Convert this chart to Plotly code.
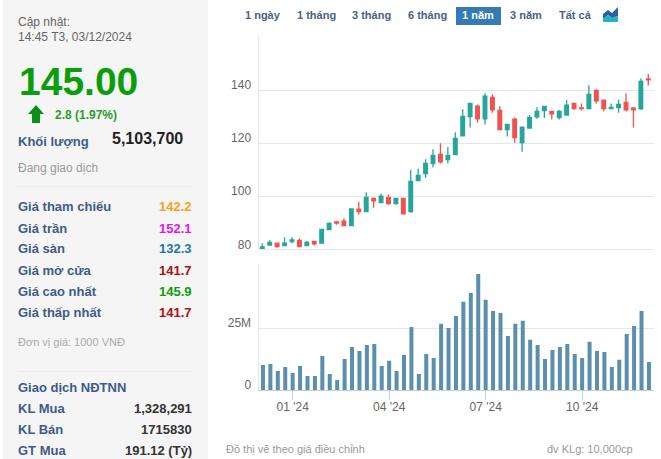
import plotly.graph_objects as go

W = 661
H = 459

weeks = ["2023-12-04", "2023-12-11", "2023-12-18", "2023-12-25", "2024-01-01", "2024-01-08", "2024-01-15",
         "2024-01-22", "2024-01-29", "2024-02-05", "2024-02-12", "2024-02-19", "2024-02-26", "2024-03-04",
         "2024-03-11", "2024-03-18", "2024-03-25", "2024-04-01", "2024-04-08", "2024-04-15", "2024-04-22",
         "2024-04-29", "2024-05-06", "2024-05-13", "2024-05-20", "2024-05-27", "2024-06-03", "2024-06-10",
         "2024-06-17", "2024-06-24", "2024-07-01", "2024-07-08", "2024-07-15", "2024-07-22", "2024-07-29",
         "2024-08-05", "2024-08-12", "2024-08-19", "2024-08-26", "2024-09-02", "2024-09-09", "2024-09-16",
         "2024-09-23", "2024-09-30", "2024-10-07", "2024-10-14", "2024-10-21", "2024-10-28", "2024-11-04",
         "2024-11-11", "2024-11-18", "2024-11-25", "2024-12-02"]

opens = [80.2, 81.6, 82.3, 81.4, 82.9, 83.4, 81.4, 83.0, 82.3, 87.4, 90.3, 90.6, 88.9, 95.1, 94.2, 99.2, 97.6, 99.5,
         97.2, 99.2, 94.2, 105.9, 108.5, 112.3, 115.8, 113.8, 115.7, 122.8, 130.0, 134.0, 129.2, 137.3, 132.4, 125.1,
         129.1, 120.2, 125.7, 129.9, 132.3, 132.0, 129.6, 130.6, 135.0, 133.3, 133.0, 139.9, 136.2, 133.0, 133.4,
         135.4, 133.3, 132.9, 144.2]
highs = [82.3, 83.4, 82.6, 84.5, 84.5, 84.1, 83.1, 83.1, 87.7, 90.2, 90.8, 91.7, 95.5, 97.8, 101.5, 99.5, 100.9, 100.7,
         99.3, 99.3, 109.9, 110.5, 113.9, 117.7, 120.0, 118.6, 124.1, 132.8, 135.2, 134.6, 138.8, 138.4, 133.9, 127.2,
         129.7, 126.1, 130.6, 133.5, 134.0, 132.1, 132.5, 136.3, 135.2, 135.0, 141.8, 140.3, 136.5, 135.0, 136.5,
         138.8, 133.5, 144.4, 146.1]
lows = [79.7, 81.3, 80.6, 81.3, 82.3, 80.9, 81.3, 81.4, 82.1, 87.3, 89.3, 88.8, 88.8, 93.1, 94.1, 95.7, 97.5, 96.8,
        96.8, 93.3, 93.8, 105.8, 107.0, 110.8, 112.3, 112.3, 115.6, 122.7, 125.9, 127.7, 127.0, 131.5, 125.0, 122.5,
        120.2, 116.8, 125.5, 129.2, 129.5, 128.9, 128.9, 130.4, 132.6, 132.3, 132.9, 134.9, 131.9, 133.0, 131.5,
        131.9, 125.9, 132.6, 141.7]
closes = [80.9, 82.6, 81.0, 82.3, 83.5, 81.0, 82.6, 82.1, 87.5, 89.8, 89.9, 88.9, 95.2, 94.2, 99.6, 98.3, 100.0, 97.2,
          99.2, 93.4, 105.6, 107.9, 112.4, 115.4, 113.0, 115.4, 121.8, 130.1, 135.0, 129.2, 137.7, 132.6, 125.1, 127.1,
          122.1, 126.0, 129.7, 132.0, 133.9, 131.1, 132.0, 134.3, 133.0, 133.0, 138.4, 136.0, 133.0, 133.5, 134.6,
          132.6, 132.6, 143.3, 143.9]
volumes = [10.1, 10.5, 7.7, 9.3, 6.9, 9.7, 5.7, 5.7, 13.8, 6.5, 4.1, 12.6, 17.4, 15.8, 18.2, 18.6, 9.7, 11.8, 7.7, 14.2,
           25.5, 6.5, 14.6, 13.0, 26.8, 25.1, 30.0, 35.7, 39.3, 47.0, 36.5, 32.0, 31.2, 21.9, 26.8, 28.0, 20.3, 18.2,
           12.6, 16.2, 17.4, 18.6, 14.6, 13.0, 19.5, 15.8, 15.4, 9.3, 12.2, 22.7, 25.9, 32.0, 11.3]

month_ticks = ["2024-01-01", "2024-04-01", "2024-07-01", "2024-09-30"]
month_labels = ["01 '24", "04 '24", "07 '24", "10 '24"]

range_buttons = ["1 ngày", "1 tháng", "3 tháng", "6 tháng", "1 năm", "3 năm", "Tất cả"]
button_centers = [263, 316, 371, 427, 478, 526, 575]

price_rows = ["Giá tham chiếu", "Giá trần", "Giá sàn", "Giá mở cửa", "Giá cao nhất", "Giá thấp nhất"]
price_values = ["142.2", "152.1", "132.3", "141.7", "145.9", "141.7"]
price_colors = ["#f7a11a", "#e815e8", "#1f78a8", "#aa1111", "#0a9e0a", "#aa1111"]

foreign_rows = ["KL Mua", "KL Bán", "GT Mua"]
foreign_values = ["1,328,291", "1715830", "191.12 (Tỷ)"]

FONT = "Liberation Sans"
NAVY = "#3f5b8a"


def px(x):
    return x / W


def py(y):
    return 1 - y / H


def note(text, x, y, size=12, color="#666666", bold=False, anchor="left"):
    if bold:
        text = "<b>" + text + "</b>"
    return dict(text=text, x=px(x), y=py(y), xref="paper", yref="paper", showarrow=False,
                xanchor=anchor, yanchor="middle", borderpad=0, borderwidth=0,
                font=dict(family=FONT, size=size, color=color))


fig = go.Figure()
fig.add_trace(go.Candlestick(x=weeks, open=opens, high=highs, low=lows, close=closes,
                             increasing=dict(line=dict(color="#26a69a", width=1.3), fillcolor="#26a69a"),
                             decreasing=dict(line=dict(color="#ef5350", width=1.3), fillcolor="#ef5350"),
                             whiskerwidth=0, xaxis="x", yaxis="y", showlegend=False))
fig.add_trace(go.Bar(x=weeks, y=volumes, marker=dict(color="#5b8fac", line=dict(width=0)),
                     xaxis="x2", yaxis="y2", showlegend=False))

notes = [
    note("Cập nhật:", 18, 22),
    note("14:45 T3, 03/12/2024", 18, 37),
    note("145.00", 19, 82, size=39, color="#0a9e0a", bold=True),
    note("2.8 (1.97%)", 55, 115, size=12, color="#2a9d2a", bold=True),
    note("Khối lượng", 18, 141, size=13, color=NAVY, bold=True),
    note("5,103,700", 112, 139, size=16, color="#222222", bold=True),
    note("Đang giao dịch", 18, 168, color="#999999"),
    note("Đơn vị giá: 1000 VNĐ", 18, 342, size=11, color="#aaaaaa"),
    note("Giao dịch NĐTNN", 18, 387, size=13, color=NAVY, bold=True),
    note("Đồ thị vẽ theo giá điều chỉnh", 226, 449, size=11, color="#999999"),
    note("đv KLg: 10,000cp", 633, 449, size=11, color="#999999", anchor="right"),
]
for i, label in enumerate(price_rows):
    notes.append(note(label, 18, 207 + i * 21, size=13, color=NAVY, bold=True))
    notes.append(note(price_values[i], 192, 207 + i * 21, size=13, color=price_colors[i], bold=True, anchor="right"))
for i, label in enumerate(foreign_rows):
    notes.append(note(label, 18, 408 + i * 21, size=13, color=NAVY, bold=True))
    notes.append(note(foreign_values[i], 192, 408 + i * 21, size=13, color="#333333", bold=True, anchor="right"))
for label, center in zip(range_buttons, button_centers):
    selected = label == "1 năm"
    notes.append(note(label, center, 15, size=11, color="#ffffff" if selected else "#4a6284", bold=True, anchor="center"))


def paper_rect(x0, y0, x1, y1, color):
    return dict(type="rect", xref="paper", yref="paper", x0=px(x0), x1=px(x1), y0=py(y1), y1=py(y0),
                fillcolor=color, line=dict(width=0), layer="below")


def paper_path(points, color):
    path = "M " + " L ".join(f"{px(a):.4f},{py(b):.4f}" for a, b in points) + " Z"
    return dict(type="path", xref="paper", yref="paper", path=path, fillcolor=color, line=dict(width=0))


shapes = [
    paper_rect(3, 0, 208, 459, "#f5f5f5"),
    paper_rect(18, 186, 192, 187, "#ececec"),
    paper_rect(18, 371, 192, 372, "#ececec"),
    paper_rect(456, 7, 501, 25, "#337ab7"),
    paper_path([(36, 105), (44, 114), (40, 114), (40, 123), (32, 123), (32, 114), (28, 114)], "#0a8f1a"),
    paper_path([(603, 14), (608, 10), (612, 13), (618, 7), (618, 16), (612, 18), (608, 15), (603, 19)], "#2d5f9e"),
    paper_path([(603, 19), (608, 15), (612, 18), (618, 16), (618, 22), (603, 22)], "#1fb5c4"),
]

tick_font = dict(family=FONT, size=12, color="#666666")

fig.update_layout(
    width=W, height=H, autosize=False,
    margin=dict(l=0, r=0, t=0, b=0),
    paper_bgcolor="#ffffff", plot_bgcolor="#ffffff",
    font=dict(family=FONT),
    showlegend=False, boxgap=0.3, bargap=0.46,
    annotations=notes, shapes=shapes,
    xaxis=dict(type="category", domain=[px(258.5), px(654)], anchor="y", range=[-0.51, 52.77], automargin=False,
               rangeslider=dict(visible=False), showticklabels=False, ticks="", showgrid=False,
               showline=True, linecolor="#e6e6e6", linewidth=1),
    yaxis=dict(domain=[py(249.3), py(36)], anchor="x", range=[80, 160.4], automargin=False,
               tickvals=[80, 100, 120, 140, 160.4], ticktext=["80", "100", "120", "140", ""],
               tickfont=tick_font, ticks="", ticklabelshift=-5, ticklabelstandoff=4,
               showgrid=True, gridcolor="#e6e6e6", gridwidth=1, zeroline=False,
               showline=True, linecolor="#e6e6e6", linewidth=1),
    xaxis2=dict(type="category", domain=[px(258.5), px(654)], anchor="y2", range=[-0.6, 52.68], automargin=False,
                tickvals=month_ticks, ticktext=month_labels, tickfont=tick_font,
                ticks="outside", ticklen=9, tickcolor="#c0d0e0", tickwidth=1, showgrid=False,
                ticklabelstandoff=-3,
                showline=True, linecolor="#c0d0e0", linewidth=1),
    yaxis2=dict(domain=[py(390), py(265.3)], anchor="x2", range=[0, 50.5], automargin=False,
                tickvals=[0, 25, 50.5], ticktext=["0", "25M", ""],
                tickfont=tick_font, ticks="", ticklabelshift=-5, ticklabelstandoff=4,
                showgrid=True, gridcolor="#e6e6e6", gridwidth=1, zeroline=False,
                showline=True, linecolor="#e6e6e6", linewidth=1),
)

fig.write_html("out.html", config=dict(displayModeBar=False),
               post_script="document.body.style.margin='0';document.body.style.overflow='hidden';")
